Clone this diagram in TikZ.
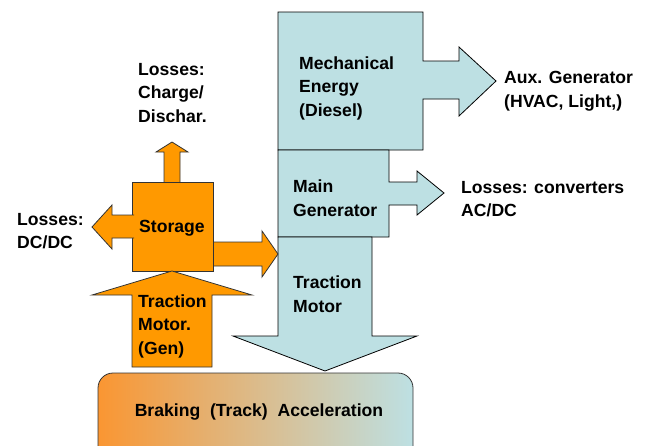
\documentclass[tikz,border=0pt]{standalone}
\usepackage{fontspec}
\setmainfont{Liberation Sans}
\usepackage{xcolor}
\usetikzlibrary{calc,positioning}

\definecolor{lblue}{RGB}{189,224,227}
\definecolor{ora}{RGB}{255,153,0}
\definecolor{brakeora}{RGB}{250,150,50}

\begin{document}
\begin{tikzpicture}[x=1pt,y=-1pt,
		blkblue/.style={draw=black,line width=0.8pt,fill=lblue},
		blkora/.style={draw=black!80,line width=0.8pt,fill=ora},
		txt/.style={anchor=west,align=left,inner sep=0pt,font=\fontsize{17.6}{23.5}\selectfont\bfseries}]
		\clip (0,0) rectangle (648,445);
		\useasboundingbox (0,0) rectangle (648,445);

		% blue column: diesel, generator, traction motor
		\draw[blkblue] (278,12) -- (423,12) -- (423,61) -- (459,61) -- (459,47) -- (496,81)
			-- (459,116) -- (459,99) -- (423,99) -- (423,150) -- (278,150) -- cycle;
		\draw[blkblue] (278,150) -- (389,150) -- (389,182) -- (417,182) -- (417,171) -- (444,193)
			-- (417,215) -- (417,205) -- (389,205) -- (389,237) -- (278,237) -- cycle;
		\draw[blkblue] (278,237) -- (372,237) -- (372,336) -- (417,336) -- (325,371)
			-- (233,336) -- (278,336) -- cycle;

		\draw[blkora] (164,182) -- (164,152) -- (156,152) -- (172,142) -- (188,152) -- (180,152) -- (180,182);
		\draw[blkora] (213,242) -- (262,242) -- (262,231) -- (278,254) -- (262,277) -- (262,266) -- (213,266);
		\draw[blkora] (132,182) rectangle (213,271);
		\draw[blkora] (134,215) -- (112,215) -- (112,205) -- (92,227) -- (112,249) -- (112,238) -- (134,238);
		\draw[blkora] (132,367) -- (132,295) -- (92,295) -- (172,271) -- (252,295) -- (212,295) -- (212,367) -- cycle;

		\draw[line width=0.8pt,draw=black!80,rounded corners=15pt,left color=brakeora,right color=lblue]
			(98,373) rectangle (413,470);

		\node[txt] (losscd) at (138,93) {Losses:\\Charge/\\Dischar.};
		\node[txt] (mech) at (299,88) {Mechanical\\Energy\\(Diesel)};
		\node[txt] (aux) at (504,91) {Aux. Generator\\(HVAC, Light,)};
		\node[txt] (maingen) at (293,198) {Main\\Generator};
		\node[txt] (lossconv) at (461,199) {Losses: converters\\AC/DC};
		\node[txt] (lossdc) at (17,231) {Losses:\\DC/DC};
		\node[txt,anchor=center] (stor) at (172,228) {Storage};
		\node[txt] (tmgen) at (138,326) {Traction\\Motor.\\(Gen)};
		\node[txt] (tm) at (293,294) {Traction\\Motor};
		\node[txt,anchor=center] (brake) at (259,412) {Braking~~(Track)~~Acceleration};
	\end{tikzpicture}
\end{document}
